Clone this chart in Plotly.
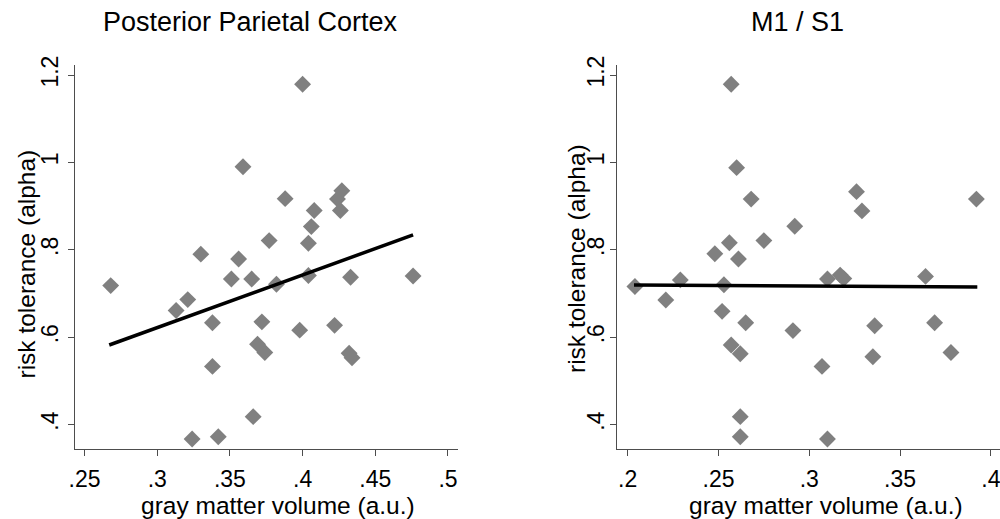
import plotly.graph_objects as go

# ---- data ----
ppc_x = [0.400, 0.359, 0.388, 0.427, 0.424, 0.426, 0.408, 0.406, 0.377, 0.404,
         0.330, 0.356, 0.268, 0.351, 0.365, 0.382, 0.404, 0.433, 0.476, 0.321,
         0.313, 0.338, 0.372, 0.398, 0.422, 0.369, 0.374, 0.432, 0.434, 0.338,
         0.366, 0.324, 0.342]
ppc_y = [1.179, 0.990, 0.917, 0.935, 0.916, 0.890, 0.890, 0.853, 0.821, 0.815,
         0.790, 0.779, 0.718, 0.733, 0.733, 0.721, 0.741, 0.737, 0.740, 0.686,
         0.661, 0.633, 0.635, 0.616, 0.627, 0.584, 0.565, 0.563, 0.553, 0.533,
         0.418, 0.367, 0.372]

m1_x = [0.257, 0.260, 0.268, 0.326, 0.329, 0.392, 0.292, 0.275, 0.256, 0.248,
        0.261, 0.204, 0.229, 0.253, 0.310, 0.317, 0.319, 0.364, 0.221, 0.252,
        0.265, 0.291, 0.336, 0.369, 0.257, 0.262, 0.335, 0.378, 0.307, 0.262,
        0.262, 0.310]
m1_y = [1.179, 0.988, 0.916, 0.933, 0.889, 0.916, 0.854, 0.821, 0.816, 0.791,
        0.779, 0.716, 0.731, 0.720, 0.733, 0.742, 0.734, 0.739, 0.685, 0.659,
        0.633, 0.615, 0.626, 0.633, 0.582, 0.562, 0.555, 0.565, 0.533, 0.418,
        0.372, 0.367]

ppc_fit_x = [0.267, 0.476]
ppc_fit_y = [0.582, 0.834]
m1_fit_x = [0.2035, 0.3925]
m1_fit_y = [0.7195, 0.715]

panel_titles = ["Posterior Parietal Cortex", "M1 / S1"]
x_title = "gray matter volume (a.u.)"
y_title = "risk tolerance (alpha)"

y_ticks = [0.4, 0.6, 0.8, 1.0, 1.2]
y_ticktext = [".4", ".6", ".8", "1", "1.2"]
ppc_xticks = [0.25, 0.30, 0.35, 0.40, 0.45, 0.50]
ppc_xticktext = [".25", ".3", ".35", ".4", ".45", ".5"]
m1_xticks = [0.20, 0.25, 0.30, 0.35, 0.40]
m1_xticktext = [".2", ".25", ".3", ".35", ".4"]

# ---- figure ----
W, H = 1000, 519
FONT = "Liberation Sans, Arial, sans-serif"
MARKER = dict(symbol="diamond", size=13, color="#808080", line=dict(width=0))
AXIS_COLOR = "#4d4d4d"

fig = go.Figure()
fig.add_trace(go.Scatter(x=ppc_x, y=ppc_y, mode="markers", marker=MARKER,
                         xaxis="x", yaxis="y", showlegend=False))
fig.add_trace(go.Scatter(x=ppc_fit_x, y=ppc_fit_y, mode="lines",
                         line=dict(color="black", width=3.5),
                         xaxis="x", yaxis="y", showlegend=False))
fig.add_trace(go.Scatter(x=m1_x, y=m1_y, mode="markers", marker=MARKER,
                         xaxis="x2", yaxis="y2", showlegend=False))
fig.add_trace(go.Scatter(x=m1_fit_x, y=m1_fit_y, mode="lines",
                         line=dict(color="black", width=3.5),
                         xaxis="x2", yaxis="y2", showlegend=False))

def px_x(p):
    return p / W

def px_y(p):
    return 1 - p / H

ydom = [px_y(449), px_y(65)]

common_x = dict(showgrid=False, zeroline=False, showline=True, linecolor=AXIS_COLOR,
                linewidth=1, ticks="outside", ticklen=6, tickcolor=AXIS_COLOR,
                tickwidth=1, tickfont=dict(family=FONT, size=23, color="black"),
                automargin=False, fixedrange=True, ticklabeloverflow="allow",
                ticklabelstandoff=3)
common_y = dict(showgrid=False, zeroline=False, showline=True, linecolor=AXIS_COLOR,
                linewidth=1, ticks="outside", ticklen=6, tickcolor=AXIS_COLOR,
                tickwidth=1, tickfont=dict(family=FONT, size=23, color="black"),
                tickangle=-90, tickmode="array", tickvals=y_ticks, ticktext=y_ticktext,
                range=[0.344, 1.2229], automargin=False, fixedrange=True,
                ticklabeloverflow="allow")

fig.update_layout(
    width=W, height=H,
    margin=dict(l=0, r=0, t=0, b=0),
    paper_bgcolor="white", plot_bgcolor="white",
    font=dict(family=FONT, color="black"),
    xaxis=dict(common_x, domain=[px_x(74.5), px_x(458)], range=[0.2431, 0.5069],
               tickmode="array", tickvals=ppc_xticks, ticktext=ppc_xticktext,
               anchor="y"),
    yaxis=dict(common_y, domain=ydom, anchor="x"),
    xaxis2=dict(common_x, domain=[px_x(617.3), 1.0], range=[0.1943, 0.405],
                tickmode="array", tickvals=m1_xticks, ticktext=m1_xticktext,
                anchor="y2"),
    yaxis2=dict(common_y, domain=ydom, anchor="x2", ticklabelstandoff=-3),
)

ann = []
# panel titles
ann.append(dict(text=panel_titles[0], x=px_x(250), y=px_y(22), xref="paper", yref="paper",
                xanchor="center", yanchor="middle", showarrow=False,
                font=dict(family=FONT, size=27, color="black")))
ann.append(dict(text=panel_titles[1], x=px_x(797), y=px_y(22), xref="paper", yref="paper",
                xanchor="center", yanchor="middle", showarrow=False,
                font=dict(family=FONT, size=27, color="black")))
# x axis titles
for cx in (278, 826):
    ann.append(dict(text=x_title, x=px_x(cx), y=px_y(505), xref="paper", yref="paper",
                    xanchor="center", yanchor="middle", showarrow=False,
                    font=dict(family=FONT, size=24.5, color="black")))
# y axis titles
for cx, cy in ((25.5, 264), (576, 259)):
    ann.append(dict(text=y_title, x=px_x(cx), y=px_y(cy), xref="paper", yref="paper",
                    xanchor="center", yanchor="middle", showarrow=False, textangle=-90,
                    font=dict(family=FONT, size=24.5, color="black")))
fig.update_layout(annotations=ann)

fig.write_html(
    "out.html",
    config={"displayModeBar": False},
    post_script="document.body.style.margin='0';document.body.style.overflow='hidden';",
)
